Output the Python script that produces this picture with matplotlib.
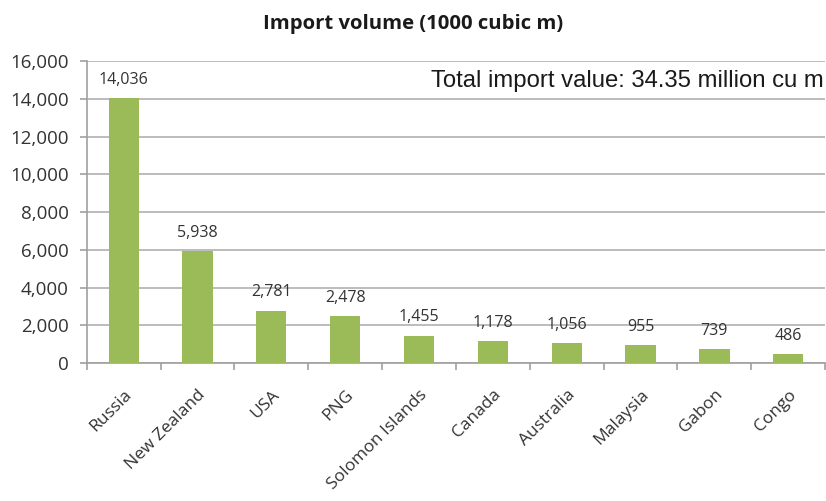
import numpy as np
import matplotlib
matplotlib.use('Agg')
import matplotlib.pyplot as plt
from matplotlib.ticker import FuncFormatter

countries = ['Russia', 'New Zealand', 'USA', 'PNG', 'Solomon Islands',
             'Canada', 'Australia', 'Malaysia', 'Gabon', 'Congo']
volumes = [14036, 5938, 2781, 2478, 1455, 1178, 1056, 955, 739, 486]

plt.rcParams['font.family'] = ['Open Sans', 'DejaVu Sans']

fig = plt.figure(figsize=(8.26, 5.01), dpi=100)
ax = fig.add_axes([0.105, 0.2755, 0.894, 0.602])

x = np.arange(len(countries))
ax.bar(x, volumes, width=0.41, color='#9BBB59', zorder=3)

for xi, v in zip(x, volumes):
  ax.annotate('{:,}'.format(v), (xi, v), xytext=(0, 13),
              textcoords='offset points', ha='center', va='center',
              fontsize=11.5, color='#333333')

ax.set_xlim(-0.5, len(countries) - 0.5)
ax.set_ylim(0, 16000)
ax.set_yticks(np.arange(0, 16001, 2000))
ax.yaxis.set_major_formatter(FuncFormatter(lambda v, p: '{:,.0f}'.format(v)))
ax.grid(axis='y', color='#b0b0b0', linewidth=1.2, zorder=0)

ax.set_xticks(x)
ax.set_xticklabels(countries, rotation=45, ha='right', rotation_mode='anchor',
                   fontsize=12.5, color='#333333')
ax.set_xticks(np.arange(-0.5, len(countries)), minor=True)
ax.tick_params(axis='x', which='major', length=0, pad=17)
ax.tick_params(axis='x', which='minor', length=5, color='#a0a0a0', width=1.2)
ax.tick_params(axis='y', length=5, color='#a0a0a0', width=1.2, pad=8,
               labelsize=13.5, labelcolor='#333333')

for s in ['top', 'right']:
  ax.spines[s].set_visible(False)
for s in ['left', 'bottom']:
  ax.spines[s].set_color('#a0a0a0')
  ax.spines[s].set_linewidth(1.2)

ax.text(0.998, 0.935, 'Total import value: 34.35 million cu m',
        transform=ax.transAxes, ha='right', va='center', fontsize=17.2,
        family='Liberation Sans', color='#1a1a1a', zorder=4)

fig.text(0.5, 0.952, 'Import volume (1000 cubic m)', ha='center', va='center',
         fontsize=14.6, fontweight='bold', color='#1a1a1a')

fig.savefig('out.png', dpi=100)
